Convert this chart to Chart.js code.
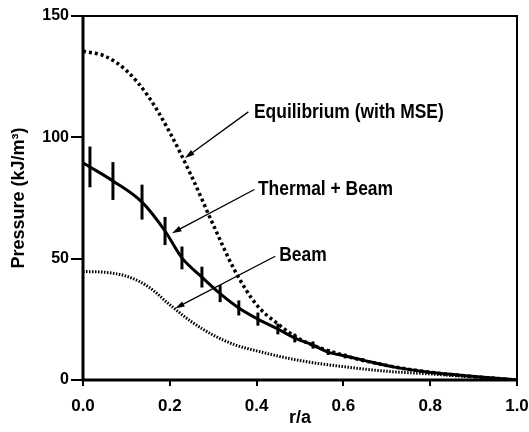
<!DOCTYPE html>
<html>
<head>
<meta charset="utf-8">
<script src="https://cdn.jsdelivr.net/npm/chart.js@4/dist/chart.umd.min.js"></script>
<style>
  body { margin: 0; background: #fff; }
  #wrap { width: 529px; height: 432px; }
</style>
</head>
<body>
<div id="wrap"><canvas id="pressure-chart"></canvas></div>
<script>
// r/a positions and pressures (kJ/m3)
const eqR = [0, 0.05, 0.1, 0.15, 0.2, 0.25, 0.3, 0.35, 0.4, 0.45, 0.5, 0.6, 0.7, 0.8, 0.9, 1.0];
const eqP = [135.5, 133.5, 127.5, 117, 102, 84, 64, 45, 31, 23, 16.8, 10.2, 6, 3.2, 1.4, 0];

const tbR = [0, 0.016, 0.069, 0.136, 0.189, 0.228, 0.274, 0.316, 0.359, 0.403, 0.449, 0.488, 0.53, 0.565, 0.604, 0.645, 0.714, 0.793, 0.869, 0.945, 1.0];
const tbP = [89.5, 87.8, 82.0, 73.3, 61.4, 50.3, 42.4, 35.6, 29.7, 25.1, 21.0, 17.3, 14.4, 11.5, 9.9, 8.2, 5.4, 3.3, 2.0, 0.8, 0];
// error bars on the measured points
const errR = [0.016, 0.069, 0.136, 0.189, 0.228, 0.274, 0.316, 0.359, 0.403, 0.449, 0.488, 0.53, 0.565, 0.604, 0.645];
const errP = [87.8, 82.0, 73.3, 61.4, 50.3, 42.4, 35.6, 29.7, 25.1, 21.0, 17.3, 14.4, 11.5, 9.9, 8.2];
const errSize = [8.4, 7.8, 7.2, 5.8, 4.7, 4.3, 3.5, 3.1, 2.7, 2.2, 1.8, 1.5, 1.2, 1.0, 0.8];

const beamR = [0, 0.05, 0.1, 0.15, 0.2, 0.25, 0.3, 0.35, 0.4, 0.5, 0.6, 0.7, 0.8, 0.9, 1.0];
const beamP = [44.7, 44.4, 42.8, 38.5, 31, 24, 18.5, 14.5, 12, 8, 5.5, 3.6, 2.5, 1.2, 0];

const seriesNames = ['Equilibrium (with MSE)', 'Thermal + Beam', 'Beam'];
const xTicks = [0, 0.2, 0.4, 0.6, 0.8, 1.0];
const yTicks = [0, 50, 100, 150];

const FONT = "'Liberation Sans', Arial, sans-serif";

function pts(xs, ys) {
    return xs.map((x, i) => ({ x: x, y: ys[i] }));
}

// label text + arrow, in data units
const notes = [
    { text: seriesNames[0], tx: 0.394, ty: 110.5, from: [0.381, 110.5], to: [0.235, 91.5] },
    { text: seriesNames[1], tx: 0.403, ty: 78.5, from: [0.395, 78.5], to: [0.205, 60.5] },
    { text: seriesNames[2], tx: 0.452, ty: 51.5, from: [0.443, 51.0], to: [0.212, 29.5] }
];

const extras = {
    id: 'extras',
    afterDatasetsDraw(chart) {
        const ctx = chart.ctx;
        const xs = chart.scales.x, ys = chart.scales.y;
        const a = chart.chartArea;
        ctx.save();
        ctx.strokeStyle = '#000';
        ctx.fillStyle = '#000';
        ctx.lineCap = 'butt';

        ctx.lineWidth = 3;
        errR.forEach((r, i) => {
            const px = xs.getPixelForValue(r);
            ctx.beginPath();
            ctx.moveTo(px, ys.getPixelForValue(errP[i] - errSize[i]));
            ctx.lineTo(px, ys.getPixelForValue(errP[i] + errSize[i]));
            ctx.stroke();
        });

        // frame
        ctx.lineWidth = 2;
        ctx.beginPath();
        ctx.moveTo(a.left, a.top);
        ctx.lineTo(a.right, a.top);
        ctx.lineTo(a.right, a.bottom);
        ctx.stroke();
        ctx.lineWidth = 3;
        ctx.beginPath();
        ctx.moveTo(a.left, a.top);
        ctx.lineTo(a.left, a.bottom);
        ctx.lineTo(a.right, a.bottom);
        ctx.stroke();

        ctx.font = "bold 21px " + FONT;
        ctx.textBaseline = 'middle';
        ctx.textAlign = 'left';
        notes.forEach(n => {
            const tx = xs.getPixelForValue(n.tx), ty = ys.getPixelForValue(n.ty);
            // squeeze the text to look like a condensed face
            ctx.save();
            ctx.translate(tx, ty);
            ctx.scale(0.83, 1);
            ctx.fillText(n.text, 0, 0);
            ctx.restore();

            const x1 = xs.getPixelForValue(n.from[0]), y1 = ys.getPixelForValue(n.from[1]);
            const x2 = xs.getPixelForValue(n.to[0]), y2 = ys.getPixelForValue(n.to[1]);
            const ang = Math.atan2(y2 - y1, x2 - x1);
            ctx.lineWidth = 1.3;
            ctx.beginPath();
            ctx.moveTo(x1, y1);
            ctx.lineTo(x2 - 6 * Math.cos(ang), y2 - 6 * Math.sin(ang));
            ctx.stroke();
            ctx.beginPath();
            ctx.moveTo(x2, y2);
            ctx.lineTo(x2 - 10 * Math.cos(ang - 0.3), y2 - 10 * Math.sin(ang - 0.3));
            ctx.lineTo(x2 - 10 * Math.cos(ang + 0.3), y2 - 10 * Math.sin(ang + 0.3));
            ctx.closePath();
            ctx.fill();
        });
        ctx.restore();
    }
};

new Chart(document.getElementById('pressure-chart'), {
    type: 'line',
    data: {
        datasets: [{
            label: seriesNames[0],
            data: pts(eqR, eqP),
            borderColor: '#000',
            borderWidth: 3.5,
            borderDash: [3, 3],
            cubicInterpolationMode: 'monotone'
        }, {
            label: seriesNames[1],
            data: pts(tbR, tbP),
            borderColor: '#000',
            borderWidth: 3,
            cubicInterpolationMode: 'monotone'
        }, {
            label: seriesNames[2],
            data: pts(beamR, beamP),
            borderColor: '#000',
            borderWidth: 3,
            borderDash: [1.5, 1.5],
            cubicInterpolationMode: 'monotone'
        }]
    },
    options: {
        responsive: true,
        maintainAspectRatio: false,
        animation: false,
        layout: { padding: { top: 16, right: 0, left: 0, bottom: 0 } },
        elements: { point: { radius: 0 } },
        plugins: { legend: { display: false }, tooltip: { enabled: false } },
        scales: {
            x: {
                type: 'linear',
                min: 0,
                max: 1,
                afterFit: s => {
                    s.height = 52;
                    s.paddingLeft = 0;
                    s.paddingRight = 12;
                },
                afterBuildTicks: s => { s.ticks = xTicks.map(v => ({ value: v })); },
                border: { display: false },
                grid: { drawOnChartArea: false, color: '#000', lineWidth: 2, tickLength: 6 },
                ticks: {
                    color: '#000',
                    padding: 10,
                    maxRotation: 0,
                    font: { family: FONT, size: 17, weight: 'bold' },
                    callback: v => v.toFixed(1)
                },
                title: {
                    display: true,
                    text: 'r/a',
                    color: '#000',
                    padding: { top: 0, bottom: 3 },
                    font: { family: FONT, size: 18, weight: 'bold' }
                }
            },
            y: {
                min: 0,
                max: 150,
                afterFit: s => { s.width = 83; },
                afterBuildTicks: s => { s.ticks = yTicks.map(v => ({ value: v })); },
                border: { display: false },
                grid: { drawOnChartArea: false, color: '#000', lineWidth: 2, tickLength: 12 },
                ticks: {
                    color: '#000',
                    padding: 2,
                    font: { family: FONT, size: 16, weight: 'bold' }
                },
                title: {
                    display: true,
                    text: 'Pressure (kJ/m³)',
                    color: '#000',
                    padding: { top: 8, bottom: 0 },
                    font: { family: FONT, size: 18, weight: 'bold' }
                }
            }
        }
    },
    plugins: [extras]
});
</script>
</body>
</html>
